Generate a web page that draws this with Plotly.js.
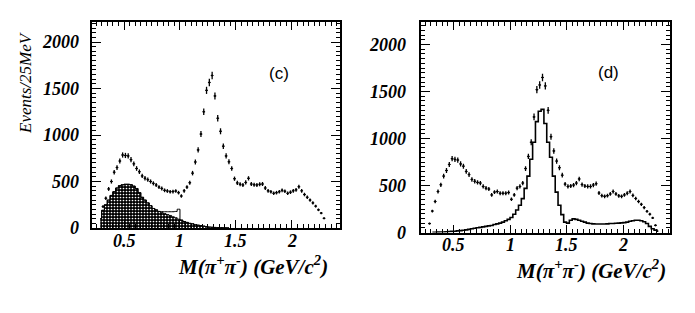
<!DOCTYPE html>
<html>
<head>
<meta charset="utf-8">
<script src="https://cdn.plot.ly/plotly-3.0.1.min.js"></script>
<style>html,body{margin:0;padding:0;background:#fff;}#chart{width:695px;height:313px;}</style>
</head>
<body>
<div id="chart"></div>
<script>
// ---------- data ----------
// bin centres (GeV/c^2), 25 MeV bins
const massC = [0.3125,0.3375,0.3625,0.3875,0.4125,0.4375,0.4625,0.4875,0.5125,0.5375,0.5625,0.5875,0.6125,0.6375,0.6625,0.6875,0.7125,0.7375,0.7625,0.7875,0.8125,0.8375,0.8625,0.8875,0.9125,0.9375,0.9625,0.9875,1.0125,1.0375,1.0625,1.0875,1.1125,1.1375,1.1625,1.1875,1.2125,1.2375,1.2625,1.2875,1.3125,1.3375,1.3625,1.3875,1.4125,1.4375,1.4625,1.4875,1.5125,1.5375,1.5625,1.5875,1.6125,1.6375,1.6625,1.6875,1.7125,1.7375,1.7625,1.7875,1.8125,1.8375,1.8625,1.8875,1.9125,1.9375,1.9625,1.9875,2.0125,2.0375,2.0625,2.0875,2.1125,2.1375,2.1625,2.1875,2.2125,2.2375,2.2625,2.2875];
const eventsC = [230,320,420,500,600,650,720,785,780,775,735,690,640,605,560,535,520,500,480,462,440,425,405,398,390,392,398,380,344,400,440,487,590,710,840,1010,1250,1480,1565,1640,1420,1180,1040,880,775,712,640,530,485,470,462,490,534,473,465,462,470,473,430,400,390,373,380,390,405,395,373,385,400,410,444,400,360,330,300,270,235,195,160,104];

// shaded component in panel (c)
const massShade = [0.2875,0.3125,0.3375,0.3625,0.3875,0.4125,0.4375,0.4625,0.4875,0.5125,0.5375,0.5625,0.5875,0.6125,0.6375,0.6625,0.6875,0.7125,0.7375,0.7625,0.7875,0.8125,0.8375,0.8625,0.8875,0.9125,0.9375,0.9625,0.9875,1.0125,1.0375,1.0625,1.0875,1.1125,1.1375,1.1625,1.1875,1.2125,1.2375,1.2625,1.2875,1.3125,1.3375,1.3625,1.3875,1.4125,1.4375];
const shadeC = [100,190,250,300,350,390,430,455,465,470,470,465,450,425,380,330,300,270,240,210,195,178,165,155,145,135,120,110,95,85,70,60,50,45,35,30,25,20,15,10,8,6,5,4,3,2,2];
// open histogram in panel (c)
const openC = [100,190,250,300,350,390,430,455,465,470,470,465,450,425,380,330,300,270,240,210,195,178,176,175,175,175,175,178,202,85,70,60,50,45,35,30,25,20,15,10,8,6,5,4,3,2,2];

const massD = [0.2875,0.3125,0.3375,0.3625,0.3875,0.4125,0.4375,0.4625,0.4875,0.5125,0.5375,0.5625,0.5875,0.6125,0.6375,0.6625,0.6875,0.7125,0.7375,0.7625,0.7875,0.8125,0.8375,0.8625,0.8875,0.9125,0.9375,0.9625,0.9875,1.0125,1.0375,1.0625,1.0875,1.1125,1.1375,1.1625,1.1875,1.2125,1.2375,1.2625,1.2875,1.3125,1.3375,1.3625,1.3875,1.4125,1.4375,1.4625,1.4875,1.5125,1.5375,1.5625,1.5875,1.6125,1.6375,1.6625,1.6875,1.7125,1.7375,1.7625,1.7875,1.8125,1.8375,1.8625,1.8875,1.9125,1.9375,1.9625,1.9875,2.0125,2.0375,2.0625,2.0875,2.1125,2.1375,2.1625,2.1875,2.2125,2.2375,2.2625,2.2875];
const eventsD = [95,228,330,436,508,600,660,724,786,778,771,730,706,650,616,565,545,533,526,490,472,462,400,430,436,418,418,418,425,353,400,472,490,526,680,810,960,1230,1520,1570,1650,1560,1300,1020,868,760,690,610,515,490,495,505,526,570,510,495,490,490,505,519,420,392,385,392,410,436,410,390,385,400,418,436,395,362,330,300,265,225,195,155,76];

// solid histogram in panel (d)
const massHistD = [0.3125,0.3375,0.3625,0.3875,0.4125,0.4375,0.4625,0.4875,0.5125,0.5375,0.5625,0.5875,0.6125,0.6375,0.6625,0.6875,0.7125,0.7375,0.7625,0.7875,0.8125,0.8375,0.8625,0.8875,0.9125,0.9375,0.9625,0.9875,1.0125,1.0375,1.0625,1.0875,1.1125,1.1375,1.1625,1.1875,1.2125,1.2375,1.2625,1.2875,1.3125,1.3375,1.3625,1.3875,1.4125,1.4375,1.4625,1.4875,1.5125,1.5375,1.5625,1.5875,1.6125,1.6375,1.6625,1.6875,1.7125,1.7375,1.7625,1.7875,1.8125,1.8375,1.8625,1.8875,1.9125,1.9375,1.9625,1.9875,2.0125,2.0375,2.0625,2.0875,2.1125,2.1375,2.1625,2.1875,2.2125,2.2375,2.2625,2.2875,2.3125];
const histD = [2,3,4,5,6,8,10,12,14,17,20,24,28,33,40,45,50,55,60,65,70,75,85,92,100,110,125,140,160,195,240,290,360,470,600,780,960,1180,1290,1310,1160,960,800,600,430,290,190,110,100,130,145,140,130,120,110,100,95,92,90,90,90,90,92,95,95,98,100,102,105,110,120,125,130,130,125,115,95,65,40,25,15];

const xTickVals = [0.5, 1, 1.5, 2];
const xTickText = ['0.5', '1', '1.5', '2'];
const yTickVals = [0, 500, 1000, 1500, 2000];
const yTickText = ['0', '500', '1000', '1500', '2000'];

// ---------- styling ----------
const W = 695, H = 313;
const px = v => v / W, py = v => 1 - v / H;
const SERIF = 'Liberation Serif';
const labelFont = {family: SERIF, size: 18, color: '#000'};
const bi = s => '<b><i>' + s + '</i></b>';

function dataTrace(x, y, xa, ya) {
  return {
    x: x, y: y, xaxis: xa, yaxis: ya, type: 'scatter', mode: 'markers',
    marker: {color: '#000', size: 2},
    error_y: {type: 'sqrt', color: '#000', thickness: 1.3, width: 0},
    error_x: {type: 'constant', value: 0.0125, color: '#000', thickness: 1, width: 0},
    hoverinfo: 'skip', showlegend: false
  };
}

const traces = [
  {
    x: massShade, y: shadeC, xaxis: 'x', yaxis: 'y', type: 'scatter', mode: 'lines',
    line: {shape: 'hvh', color: '#000', width: 1},
    fill: 'tozeroy', fillcolor: '#000',
    fillpattern: {shape: '.', fgcolor: '#ffffff', bgcolor: '#000000', size: 3, solidity: 0.25},
    hoverinfo: 'skip', showlegend: false
  },
  {
    x: massShade, y: openC, xaxis: 'x', yaxis: 'y', type: 'scatter', mode: 'lines',
    line: {shape: 'hvh', color: '#000', width: 1},
    hoverinfo: 'skip', showlegend: false
  },
  dataTrace(massC, eventsC, 'x', 'y'),
  {
    x: massHistD, y: histD, xaxis: 'x2', yaxis: 'y2', type: 'scatter', mode: 'lines',
    line: {shape: 'hvh', color: '#000', width: 1.6},
    hoverinfo: 'skip', showlegend: false
  },
  dataTrace(massD, eventsD, 'x2', 'y2')
];

function xAxis(domain, range, anchor) {
  return {
    domain: domain, range: range, anchor: anchor,
    showgrid: false, zeroline: false,
    showline: true, linecolor: '#000', linewidth: 2, mirror: 'allticks',
    ticks: 'inside', ticklen: 8, tickwidth: 1, tickcolor: '#000',
    tickmode: 'array', tickvals: xTickVals, ticktext: xTickText, showticklabels: false,
    minor: {dtick: 0.05, tick0: 0, ticks: 'inside', ticklen: 4, tickwidth: 1, tickcolor: '#000', showgrid: false}
  };
}
function yAxis(domain, range, anchor) {
  return {
    domain: domain, range: range, anchor: anchor,
    showgrid: false, zeroline: false,
    showline: true, linecolor: '#000', linewidth: 2, mirror: 'allticks',
    ticks: 'inside', ticklen: 9, tickwidth: 1, tickcolor: '#000',
    tickmode: 'array', tickvals: yTickVals, ticktext: yTickText, showticklabels: false,
    minor: {dtick: 50, tick0: 0, ticks: 'inside', ticklen: 4, tickwidth: 1, tickcolor: '#000', showgrid: false}
  };
}

// tick labels placed through the axes (data coordinates), in bold italic serif
function tickLabels(xref, yref, xLabelY, yLabelX) {
  const out = [];
  xTickVals.forEach((v, i) => out.push({xref: xref, yref: 'paper', x: v, y: py(xLabelY), text: bi(xTickText[i]),
    showarrow: false, font: labelFont, xanchor: 'center', yanchor: 'middle'}));
  yTickVals.forEach((v, i) => out.push({xref: 'paper', yref: yref, x: px(yLabelX), y: v, text: bi(yTickText[i]),
    showarrow: false, font: labelFont, xanchor: 'right', yanchor: 'middle'}));
  return out;
}

const titleFont = {family: SERIF, size: 21, color: '#000'};
const xTitle = '<b><i>M(π<sup>+</sup>π<sup>-</sup>) (GeV/c<sup>2</sup>)</i></b>';

const layout = {
  width: W, height: H,
  margin: {l: 0, r: 0, t: 0, b: 0},
  paper_bgcolor: '#fff', plot_bgcolor: '#fff',
  font: {family: SERIF, color: '#000'},
  showlegend: false,
  xaxis: xAxis([px(92), px(340)], [0.214, 2.43], 'y'),
  yaxis: yAxis([py(228), py(22)], [0, 2215], 'x'),
  xaxis2: xAxis([px(421), px(670)], [0.212, 2.416], 'y2'),
  yaxis2: yAxis([py(232.5), py(22)], [0, 2240], 'x2'),
  annotations: [].concat(
    tickLabels('x', 'y', 241, 81),
    tickLabels('x2', 'y2', 245, 408),
    [
      {xref: 'paper', yref: 'paper', x: px(253), y: py(265), text: xTitle, showarrow: false, font: titleFont, xanchor: 'center', yanchor: 'middle'},
      {xref: 'paper', yref: 'paper', x: px(591), y: py(269), text: xTitle, showarrow: false, font: titleFont, xanchor: 'center', yanchor: 'middle'},
      {xref: 'paper', yref: 'paper', x: px(25), y: py(83), text: '<i>Events/25MeV</i>', textangle: -90, showarrow: false,
        font: {family: SERIF, size: 17, color: '#000'}, xanchor: 'center', yanchor: 'middle'},
      {xref: 'paper', yref: 'paper', x: px(279), y: py(73), text: '(c)', showarrow: false,
        font: {family: 'Liberation Sans', size: 17, color: '#000'}, xanchor: 'center', yanchor: 'middle'},
      {xref: 'paper', yref: 'paper', x: px(608), y: py(72), text: '(d)', showarrow: false,
        font: {family: 'Liberation Sans', size: 17, color: '#000'}, xanchor: 'center', yanchor: 'middle'}
    ]
  )
};

Plotly.newPlot('chart', traces, layout, {staticPlot: true, displayModeBar: false});
</script>
</body>
</html>
